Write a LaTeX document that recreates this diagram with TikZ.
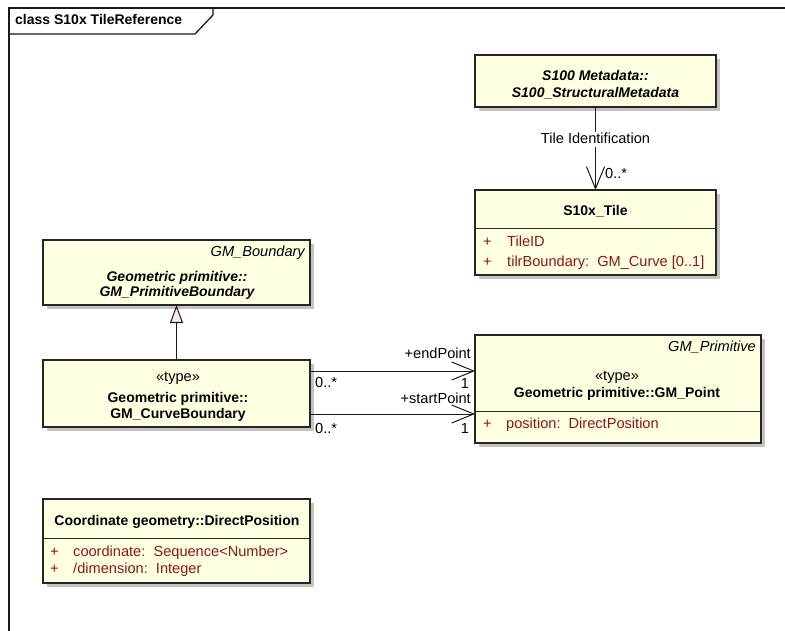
\documentclass[tikz,border=0pt]{standalone}
\usepackage{fontspec}
\setmainfont{Liberation Sans}
\usetikzlibrary{arrows.meta,shadows}
\definecolor{classfill}{RGB}{255,255,226}
\definecolor{attrred}{RGB}{140,22,22}
\definecolor{genfill}{RGB}{248,236,224}
\definecolor{shadowgray}{RGB}{196,196,196}
\newcommand{\regsize}{\fontsize{14.6}{17}\selectfont}
\newcommand{\boldsize}{\fontsize{14}{16}\selectfont}
\tikzset{
  classbox/.style={draw=black!85, line width=1.3pt, fill=classfill, inner sep=0pt, outer sep=0pt,
    drop shadow={shadow xshift=4pt, shadow yshift=-4pt, fill=shadowgray, opacity=1}},
  sep/.style={draw=black!85, line width=1pt},
  txt/.style={inner sep=0pt, font=\regsize, text height=10pt, text depth=3pt},
  cname/.style={txt, font=\boldsize\bfseries},
  cnameit/.style={txt, font=\boldsize\bfseries\itshape},
  tagged/.style={txt, font=\regsize\itshape, anchor=east},
  attr/.style={txt, text=attrred, anchor=west},
  lbl/.style={txt},
  mult/.style={txt, text depth=0pt},
  assoc/.style={draw=black!90, line width=1pt},
  navarrow/.style={assoc, -{Straight Barb[length=22pt, width=18pt, line width=1pt]}},
  genarrow/.style={assoc, -{Triangle[length=18pt, width=13pt, fill=genfill, line width=1pt]}},
}
\begin{document}
\begin{tikzpicture}[x=1pt, y=-1pt]
\useasboundingbox (0,0) rectangle (785,631);

% diagram frame and its name tab
\draw[line width=1.5pt, black!90] (9,631) -- (9,8) -- (785,8);
\draw[line width=1.3pt, black!90] (9,34) -- (195,34) -- (213,15) -- (213,8);
\node[cname, anchor=west] (title) at (15,21) {class S10x TileReference};

% class boxes
\node[classbox, minimum width=241pt, minimum height=52pt] (meta) at (595.5,81) {};
\node[classbox, minimum width=241pt, minimum height=85pt] (tile) at (595.5,232.5) {};
\node[classbox, minimum width=267pt, minimum height=65pt] (pbound) at (176.5,272.5) {};
\node[classbox, minimum width=267pt, minimum height=67pt] (cbound) at (176.5,393.5) {};
\node[classbox, minimum width=286pt, minimum height=108pt] (point) at (618,389) {};
\node[classbox, minimum width=267pt, minimum height=84pt] (dpos) at (176.5,541) {};

% compartment separators
\draw[sep] (tile.west |- 0,229) -- (tile.east |- 0,229);
\draw[sep] (point.west |- 0,411) -- (point.east |- 0,411);
\draw[sep] (dpos.west |- 0,538) -- (dpos.east |- 0,538);

% S100_StructuralMetadata
\node[cnameit] (metaA) at (595.5,77) {S100 Metadata::};
\node[cnameit] (metaB) at (595.5,94) {S100\_StructuralMetadata};

% S10x_Tile
\node[cname] (tileN) at (595.5,212) {S10x\_Tile};
\node[attr] (tileP1) at (483,243) {+};
\node[attr] (tileA1) at (507,243) {TileID};
\node[attr] (tileP2) at (483,263) {+};
\node[attr] (tileA2) at (507,263) {tilrBoundary:\ \ GM\_Curve [0..1]};

% GM_PrimitiveBoundary
\node[tagged] (pbT) at (305,253) {GM\_Boundary};
\node[cnameit] (pbA) at (177,278) {Geometric primitive::};
\node[cnameit] (pbB) at (177,293) {GM\_PrimitiveBoundary};

% GM_CurveBoundary
\node[txt] (cbS) at (178,378) {«type»};
\node[cname] (cbA) at (178,399) {Geometric primitive::};
\node[cname] (cbB) at (178,415) {GM\_CurveBoundary};

% GM_Point
\node[tagged] (ptT) at (756,348) {GM\_Primitive};
\node[txt] (ptS) at (617,377) {«type»};
\node[cname] (ptN) at (617,394) {Geometric primitive::GM\_Point};
\node[attr] (ptP1) at (483,425) {+};
\node[attr] (ptA1) at (506,425) {position:\ \ DirectPosition};

% DirectPosition
\node[cname] (dpN) at (177,522) {Coordinate geometry::DirectPosition};
\node[attr] (dpP1) at (50,553) {+};
\node[attr] (dpA1) at (73,553) {coordinate:\ \ Sequence<Number>};
\node[attr] (dpP2) at (50,570) {+};
\node[attr] (dpA2) at (73,570) {/dimension:\ \ Integer};

% connectors
\draw[navarrow] (meta.south) -- (tile.north);
\node[lbl, fill=white, inner sep=1pt] (tileRole) at (595.5,140) {Tile Identification};
\node[lbl, anchor=west] (tileMul) at (605,175) {0..*};

\draw[genarrow] (cbound.north) -- (pbound.south);

\draw[navarrow] (cbound.east |- 0,371) -- (point.west |- 0,371);
\node[lbl, anchor=east] (endRole) at (471,355) {+endPoint};
\node[mult] (endMulT) at (465,383) {1};
\node[lbl, anchor=west] (endMulS) at (315,384) {0..*};

\draw[navarrow] (cbound.east |- 0,414) -- (point.west |- 0,414);
\node[lbl, anchor=east] (startRole) at (471,400) {+startPoint};
\node[mult] (startMulT) at (465,428.5) {1};
\node[lbl, anchor=west] (startMulS) at (315,430) {0..*};
\end{tikzpicture}
\end{document}
